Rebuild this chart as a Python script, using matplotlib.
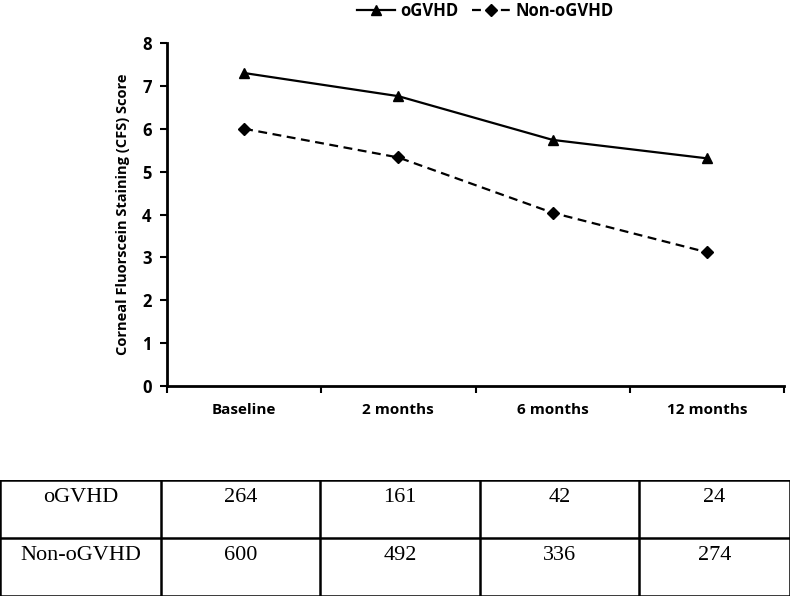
import matplotlib.pyplot as plt

categories = ["Baseline", "2 months", "6 months", "12 months"]
ogvhd_cfs = [7.3, 6.76, 5.74, 5.31]
non_ogvhd_cfs = [6.0, 5.33, 4.04, 3.12]
row_labels = ["oGVHD", "Non-oGVHD"]
ogvhd_n = [264, 161, 42, 24]
non_ogvhd_n = [600, 492, 336, 274]

W, H = 790, 598
fig = plt.figure(figsize=(W / 100, H / 100), dpi=100)
sans = "Open Sans"

ax = fig.add_axes([167 / W, 1 - 386 / H, (784 - 167) / W, (386 - 43) / H])
x = list(range(len(categories)))
ax.plot(x, ogvhd_cfs, color="black", lw=1.6, marker="^", ms=7, label="oGVHD")
ax.plot(x, non_ogvhd_cfs, color="black", lw=1.6, ls=(0, (4, 2.5)), marker="D", ms=6,
        label="Non-oGVHD")

ax.set_xlim(-0.5, len(categories) - 0.5)
ax.set_ylim(0, 8)
ax.set_yticks(range(0, 9))
ax.set_xticks([i - 0.5 for i in range(len(categories) + 1)])
ax.set_xticklabels([])
ax.set_xticks(x, minor=True)
ax.set_xticklabels(categories, minor=True, fontsize=11, fontweight="bold", family=sans)
ax.tick_params(axis="x", which="minor", length=0, pad=12)
ax.tick_params(axis="x", which="major", length=5, width=1.5, direction="out")
ax.tick_params(axis="y", length=5, width=1.5, direction="out", pad=6)
for lab in ax.get_yticklabels():
    lab.set_fontsize(12)
    lab.set_fontweight("bold")
    lab.set_family(sans)
for s in ["top", "right"]:
    ax.spines[s].set_visible(False)
for s in ["left", "bottom"]:
    ax.spines[s].set_linewidth(2)
ax.set_ylabel("Corneal Fluorscein Staining (CFS) Score", fontsize=10.5,
              fontweight="bold", family=sans, labelpad=9)

fig.legend(loc="center", bbox_to_anchor=(0.614, 1 - 11 / H), ncol=2, frameon=False,
           handlelength=2.3, columnspacing=0.8, handletextpad=0.3,
           prop={"family": sans, "weight": "bold", "size": 12})

# counts table
tab = fig.add_axes([0, 1 - 596 / H, 1, (596 - 480) / H])
tab.set_xlim(0, W)
tab.set_ylim(2, 0)
tab.axis("off")
col_edges = [0, 161, 320, 480, 639, 790]
for xe in col_edges:
    tab.axvline(xe, color="black", lw=1.8)
for ye in [0, 1, 2]:
    tab.axhline(ye, color="black", lw=1.8)
rows = [ogvhd_n, non_ogvhd_n]
for r, (lab, vals) in enumerate(zip(row_labels, rows)):
    cells = [lab] + [str(v) for v in vals]
    for c, txt in enumerate(cells):
        xc = (col_edges[c] + col_edges[c + 1]) / 2
        tab.text(xc, r + 0.3, txt, ha="center", va="center", fontsize=16,
                 family="Liberation Serif")

fig.savefig("out.png", dpi=100)
